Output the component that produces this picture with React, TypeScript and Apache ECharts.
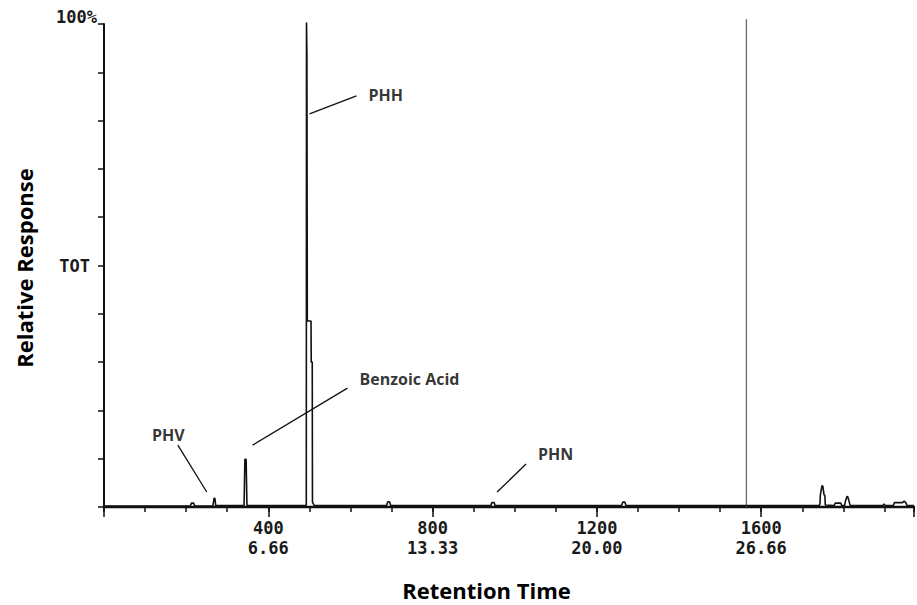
import React, { useEffect, useRef } from "react";
import * as echarts from "echarts";

// Total ion chromatogram (scan number vs relative response, %)
const scanNumbers = [
  0, 210, 213, 218, 221, 265, 268, 270, 272, 341, 343, 346, 348,
  490, 492.5, 493, 494, 495, 504, 504.5, 507, 507.5, 512,
  688, 691, 695, 698, 942, 944, 950, 952, 1260, 1263, 1268, 1271,
  1741, 1743, 1744, 1748, 1750, 1753, 1755, 1756, 1778, 1780, 1794, 1796,
  1803, 1805, 1809, 1811, 1815, 1817, 1896, 1899, 1902,
  1922, 1924, 1944, 1948, 1952, 1955, 1972,
];
const responsePct = [
  0.2, 0.2, 0.8, 0.8, 0.2, 0.2, 1.8, 1.8, 0.3, 0.3, 9.9, 9.9, 0.3,
  0.3, 0.4, 100.3, 94, 38.5, 38.5, 30, 30, 1.0, 0.3,
  0.3, 1.1, 1.1, 0.3, 0.3, 0.9, 0.9, 0.3, 0.3, 1.0, 1.0, 0.3,
  0.3, 0.6, 2.5, 4.4, 4.3, 2.5, 2.4, 0.4, 0.3, 0.8, 0.8, 0.3,
  0.3, 1.2, 2.2, 2.1, 0.8, 0.3, 0.3, 0.6, 0.3,
  0.3, 0.9, 0.9, 1.2, 0.9, 0.3, 0.3,
];

// gray vertical spike
const spikeScan = [1564, 1564];
const spikeResponse = [0, 101];

// x tick labels: scan number and retention time (min)
const xTickScans = [400, 800, 1200, 1600];
const xTickMinutes = ["6.66", "13.33", "20.00", "26.66"];
const xMax = 1972;

// peak annotations: label, text anchor [scan, %], leader line start/end
const peakNames = ["PHH", "Benzoic Acid", "PHV", "PHN"];
const labelAnchors = [
  [643.7, 85.3],
  [621.9, 26.5],
  [116.6, 14.9],
  [1056.7, 10.9],
];
const leaderFrom = [
  [614.6, 85.1],
  [592.7, 24.6],
  [179.8, 12.8],
  [1027.5, 8.9],
];
const leaderTo = [
  [500.4, 81.4],
  [361.9, 12.8],
  [250.2, 3.1],
  [957, 3.1],
];

const titleFont = "'Open Sans', 'Noto Sans', sans-serif";
const monoFont = "'DejaVu Sans Mono', monospace";

export default function App() {
  const ref = useRef<HTMLDivElement>(null);

  useEffect(() => {
    if (!ref.current) return;
    const chart = echarts.init(ref.current, null, { renderer: "svg" });

    const signal = scanNumbers.map((s, i) => [s, responsePct[i]]);
    const spike = spikeScan.map((s, i) => [s, spikeResponse[i]]);

    const option: any = {
      animation: false,
      backgroundColor: "#ffffff",
      grid: { left: 104, right: 0, top: 24, bottom: 98, containLabel: false },
      xAxis: [
        {
          type: "value",
          min: 0,
          max: xMax,
          interval: 400,
          position: "bottom",
          axisLine: { show: true, lineStyle: { color: "#111", width: 2.4 } },
          axisTick: { show: true, length: 10, lineStyle: { color: "#111", width: 1.5 } },
          splitLine: { show: false },
          axisLabel: {
            margin: 11,
            fontFamily: monoFont,
            fontWeight: "bold",
            fontSize: 17,
            lineHeight: 20,
            color: "#1a1a1a",
            formatter: (v: number) => {
              const i = xTickScans.indexOf(v);
              return i >= 0 ? `${v}\n${xTickMinutes[i]}` : "";
            },
          },
        },
        {
          type: "value",
          min: 0,
          max: xMax,
          interval: 100,
          position: "bottom",
          axisLine: { show: false },
          axisTick: { show: true, length: 5, lineStyle: { color: "#111", width: 1.5 } },
          splitLine: { show: false },
          axisLabel: { show: false },
        },
      ],
      yAxis: {
        type: "value",
        min: 0,
        max: 100,
        interval: 10,
        axisLine: { show: true, lineStyle: { color: "#111", width: 2 } },
        axisTick: { show: true, length: 6, lineStyle: { color: "#111", width: 1.5 } },
        splitLine: { show: false },
        axisLabel: {
          margin: 7,
          color: "#1a1a1a",
          formatter: (v: number) => (v === 100 ? "{t|100%}" : v === 50 ? "{o|TOT}" : ""),
          rich: {
            t: {
              fontFamily: monoFont,
              fontWeight: "bold",
              fontSize: 17,
              color: "#1a1a1a",
              padding: [0, 0, 14, 0],
            },
            o: {
              fontFamily: monoFont,
              fontWeight: "bold",
              fontSize: 17,
              color: "#1a1a1a",
              padding: [0, 7, 0, 0],
            },
          },
        },
      },
      series: [
        {
          type: "line",
          name: "TIC",
          xAxisIndex: 0,
          data: signal,
          showSymbol: false,
          symbol: "none",
          clip: false,
          lineStyle: { color: "#111", width: 1.6 },
          z: 3,
        },
        {
          type: "line",
          name: "spike",
          xAxisIndex: 0,
          data: spike,
          showSymbol: false,
          symbol: "none",
          clip: false,
          lineStyle: { color: "#6a6a6a", width: 1.3 },
          z: 2,
        },
        {
          type: "lines",
          coordinateSystem: "cartesian2d",
          xAxisIndex: 0,
          polyline: false,
          silent: true,
          lineStyle: { color: "#111", width: 1.3, opacity: 1 },
          data: peakNames.map((_, i) => ({ coords: [leaderFrom[i], leaderTo[i]] })),
          z: 4,
        },
        {
          type: "scatter",
          xAxisIndex: 0,
          symbolSize: 0,
          silent: true,
          clip: false,
          data: peakNames.map((n, i) => ({ name: n, value: labelAnchors[i] })),
          label: {
            show: true,
            position: "right",
            distance: 0,
            formatter: "{b}",
            fontFamily: titleFont,
            fontWeight: "bold",
            fontSize: 16,
            color: "#000",
          },
          z: 5,
        },
      ],
      graphic: [
        {
          type: "text",
          x: 24,
          y: 268,
          rotation: Math.PI / 2,
          style: {
            text: "Relative Response",
            fontFamily: titleFont,
            fontWeight: "bold",
            fontSize: 22,
            fill: "#000",
            align: "center",
            verticalAlign: "middle",
          },
        },
        {
          type: "text",
          x: 486.5,
          y: 590,
          style: {
            text: "Retention Time",
            fontFamily: titleFont,
            fontWeight: "bold",
            fontSize: 22,
            fill: "#000",
            align: "center",
            verticalAlign: "middle",
          },
        },
      ],
    };

    chart.setOption(option);
    return () => chart.dispose();
  }, []);

  return (
    <div
      ref={ref}
      style={{ position: "fixed", left: 0, top: 0, width: 917, height: 605, background: "#fff" }}
    />
  );
}
